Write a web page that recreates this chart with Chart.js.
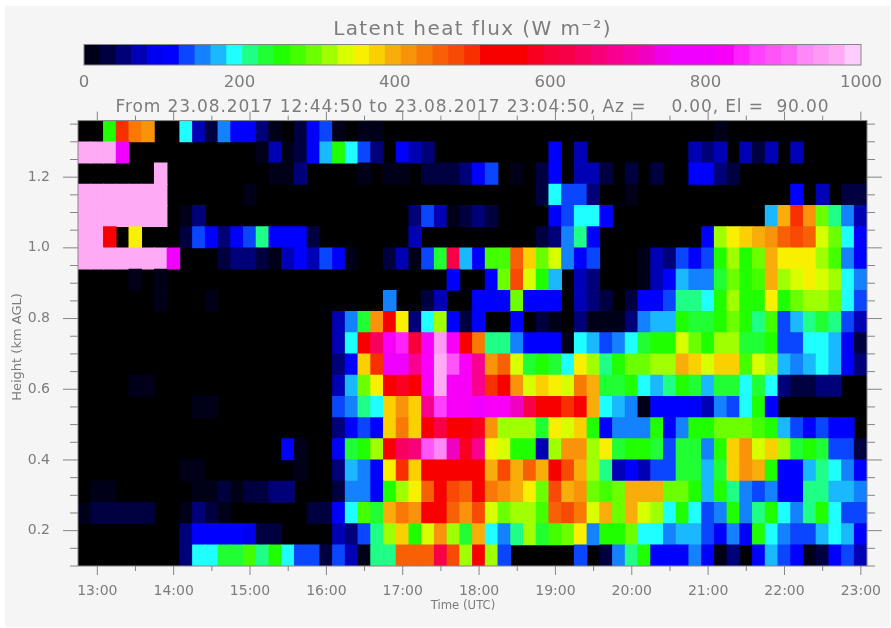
<!DOCTYPE html>
<html>
<head>
<meta charset="utf-8">
<script src="https://cdn.jsdelivr.net/npm/chart.js@4"></script>
<style>
html,body{margin:0;padding:0;background:#fff;width:891px;height:628px;overflow:hidden}
#panel{position:absolute;left:5px;top:6px;width:885px;height:621px;background:#f5f5f5}
canvas{position:absolute;left:0;top:0;filter:blur(0.7px)}
</style>
</head>
<body>
<div id="panel"></div>
<canvas id="bar" width="891" height="100"></canvas>
<canvas id="map" width="891" height="628"></canvas>
<script>
const _ = null;
// Colour-table level (0-48, each one 1000/49 W m-2 wide) read per 10-minute column; null = no data (black)
const h1330=[_,_,12,24,21,20,_,_,9,3, 1,7,5,5,2,0,_,1,5,6, 0,_,0,0,_,_,_,_,_,_, _,_,_,_,_,_,_,_,_,_, _,_,_,_,_,_,_,_,_,_, 0,_,_,_,_,_,_,_,_,_, _,_];
const h1270=[47,47,47,38,_,_,_,_,_,_, _,_,_,_,0,3,0,1,5,8, 12,9,6,2,_,5,3,2,_,_, _,_,_,_,_,_,_,5,_,3, _,_,_,_,_,_,_,_,3,2, 3,_,3,1,3,_,3,_,_,_, _,_];
const h1210=[_,_,_,_,_,_,47,_,_,_, _,_,_,_,_,0,0,2,_,_, _,_,0,_,0,0,_,1,1,1, 2,5,6,_,0,_,1,5,_,3, 3,1,_,1,_,1,_,_,5,5, 2,1,_,_,_,_,_,_,_,_, _,_];
const h1150=[47,47,47,47,47,47,47,_,_,_, _,_,_,0,_,_,_,_,_,_, _,_,_,_,_,_,_,_,_,_, _,_,_,_,_,_,1,9,6,6, 2,_,_,0,_,_,_,_,_,_, _,_,_,_,_,_,5,_,3,_, 1,1];
const h1090=[47,47,47,47,47,47,47,_,0,2, _,_,_,_,_,_,_,_,_,_, _,_,_,_,_,_,2,6,3,0, 1,2,1,_,_,_,_,5,6,9, 9,5,_,_,_,_,_,_,_,_, _,_,_,_,8,19,24,20,14,10, 7,3];
const h1030=[47,47,25,_,17,_,_,_,1,6, 5,2,5,6,10,5,5,5,1,_, _,_,_,_,_,_,3,_,_,_, _,_,_,_,_,_,1,2,7,10, 5,_,_,_,_,_,_,_,_,5, 15,17,18,19,20,22,23,22,16,14, 9,5];
const h970=[47,47,47,47,47,47,47,38,_,_, _,1,2,2,1,0,3,5,3,6, 5,0,_,_,1,3,0,6,11,30, 8,5,13,13,22,18,14,16,7,5, 6,_,_,_,0,3,2,6,5,6, 12,15,12,14,19,17,17,17,15,13, 7,5];
const h910=[_,_,_,_,0,_,0,_,_,_, _,_,_,_,_,_,_,_,_,_, _,_,_,_,_,_,_,_,_,5, _,_,5,14,23,16,12,8,_,3, 2,_,_,_,0,3,5,8,7,7, 11,14,12,13,19,15,16,17,16,15, 9,7];
const h850=[_,_,_,_,_,_,0,_,_,_, 0,_,_,_,_,_,_,_,_,_, _,_,_,_,7,_,_,1,3,_, _,5,5,5,14,5,5,5,_,3, 2,1,_,1,5,5,6,10,10,9, 12,15,12,12,17,12,14,15,15,14, 9,6];
const h790=[_,_,_,_,_,_,_,_,_,_, _,_,_,_,_,_,_,_,_,_, 3,7,11,20,25,17,2,9,15,5, 1,5,_,_,5,_,1,0,_,2, 0,0,0,2,7,8,8,12,11,11, 12,14,12,10,13,6,8,10,11,10, 6,3];
const h730=[_,_,_,_,_,_,_,_,_,_, _,_,_,_,_,_,_,_,_,_, 3,9,25,31,40,41,29,40,46,40, 25,21,10,10,7,5,5,5,0,9, 8,6,7,9,11,12,12,16,14,12, 15,15,11,11,12,6,6,9,9,8, 5,1];
const h670=[_,_,_,_,_,_,_,_,_,_, _,_,_,_,_,_,_,_,_,_, 2,5,18,24,37,38,33,40,47,43, 40,33,20,22,16,11,12,11,9,17, 15,10,12,14,14,15,15,19,18,16, 18,18,13,16,15,8,7,8,9,8, 5,2];
const h610=[_,_,_,_,0,0,_,_,_,_, _,_,_,_,_,_,_,_,_,_, 3,8,14,17,25,28,25,40,47,40, 40,33,24,25,20,16,18,17,16,21, 19,11,11,12,9,8,10,12,11,8, 11,11,9,11,9,2,1,1,2,2, _,_];
const h550=[_,_,_,_,_,_,_,_,_,0, 0,_,_,_,_,_,_,_,_,_, 6,7,10,9,18,20,18,33,42,40, 40,39,40,40,35,30,25,25,24,25, 19,9,8,7,0,5,5,5,5,3, 7,6,9,12,5,_,_,_,_,_, _,_];
const h490=[_,_,_,_,_,_,_,_,_,_, _,_,_,_,_,_,_,_,_,_, 2,5,6,5,18,21,18,25,30,27, 25,28,20,15,15,15,11,17,16,18, 12,5,7,7,7,12,5,7,12,12, 14,14,14,13,12,8,6,5,6,5, 5,_];
const h430=[_,_,_,_,_,_,_,_,_,_, _,_,_,_,_,_,5,0,_,_, 5,11,12,15,27,31,32,43,45,35, 28,33,17,16,12,12,3,15,20,20, 15,17,11,12,12,11,6,11,11,7, 12,18,20,16,18,15,11,12,11,6, 6,1];
const h370=[_,_,_,_,_,_,_,_,0,0, _,_,_,_,_,_,_,0,_,_, 2,8,7,5,17,24,18,25,26,25, 25,25,19,23,19,22,19,25,23,19, 15,10,3,5,3,6,6,11,11,8, 11,18,20,19,12,5,5,8,10,9, 7,5];
const h310=[_,0,0,_,_,_,_,_,_,0, 0,1,0,1,1,2,2,_,_,_, 1,7,7,5,12,15,17,22,25,23, 22,25,21,20,19,17,14,23,19,20, 14,13,14,19,19,19,14,14,12,8, 12,10,7,6,7,5,5,10,10,8, 8,7];
const h250=[0,1,1,1,1,1,_,_,0,2, 1,0,_,_,_,_,_,_,1,1, 5,9,13,11,19,21,20,25,25,22, 20,23,16,14,15,15,13,22,23,21, 16,19,14,19,16,15,9,12,9,6, 7,12,7,10,12,9,7,10,12,9, 6,6];
const h190=[_,_,_,_,_,_,_,_,2,5, 5,5,5,4,1,1,_,_,_,_, 3,2,6,10,15,18,12,16,20,15, 11,19,9,7,10,15,11,13,14,17, 7,12,12,14,9,9,7,8,8,6, 5,7,5,12,9,7,6,6,8,9, 8,5];
const h130=[_,_,_,_,_,_,_,_,2,9, 9,11,11,13,10,12,9,6,6,1, 6,3,0,10,10,22,22,22,30,23, 15,25,15,6,_,_,_,_,_,6, _,1,7,10,12,5,5,5,7,5, 0,2,_,5,8,6,5,0,1,5, 6,3];

const heights=[0.13,0.19,0.25,0.31,0.37,0.43,0.49,0.55,0.61,0.67,0.73,0.79,0.85,0.91,0.97,1.03,1.09,1.15,1.21,1.27,1.33];
const rows=[h130,h190,h250,h310,h370,h430,h490,h550,h610,h670,h730,h790,h850,h910,h970,h1030,h1090,h1150,h1210,h1270,h1330];
const timeStart=764+50/60, timeStep=10, timeEnd=1384+50/60;   // minutes of day, 12:44:50 .. 23:04:50
const hourTicks=[780,840,900,960,1020,1080,1140,1200,1260,1320,1380];
const hourLabels=["13:00","14:00","15:00","16:00","17:00","18:00","19:00","20:00","21:00","22:00","23:00"];
const halfHourTicks=[810,870,930,990,1050,1110,1170,1230,1290,1350];
const heightTicks=[0.2,0.4,0.6,0.8,1.0,1.2];
const heightMinor=[0.1,0.15,0.25,0.3,0.35,0.45,0.5,0.55,0.65,0.7,0.75,0.85,0.9,0.95,1.05,1.1,1.15,1.25,1.3,1.35];
const barTicks=[0,200,400,600,800,1000];
const palette=["#000018","#000040","#000078","#0000b4","#0000f0","#0000ff","#0a46ff","#1482ff","#1ab8ff","#1fffff",
"#1fff88","#1fff33","#20ff00","#44ff00","#6cff00","#a0ff00","#d8ff00","#f8f000","#fad000","#f9ad0a",
"#f8930a","#f87a05","#f86005","#f84a05","#f83000","#f80000","#f80000","#f80000","#f80020","#f80038",
"#f80048","#f80060","#f80078","#f80090","#f800a8","#f000c0","#f000e8","#f000ff","#f000ff","#f000ff",
"#f800f8","#ff22ff","#ff40ff","#ff55f8","#ff66f8","#ff88f8","#ff99f5","#ffaaf5","#ffccff"];
const titleText="Latent heat flux (W m\u207B\u00B2)";
const subtitleText="From 23.08.2017 12:44:50 to 23.08.2017 23:04:50, Az =    0.00, El =  90.00";

const GREY="#7c7c7c", LINE="#858585", FONT="'DejaVu Sans'";
const levelWidth=1000/palette.length;
const halfRow=0.03;

rows.forEach((r,i)=>{ if(r.length!==62) console.error("row",heights[i],"has",r.length); });

const datasets=rows.map((row,i)=>{
  const cells=[];
  row.forEach((lv,c)=>{ if(lv!==null) cells.push({lv,c}); });
  return {
    grouped:false, barPercentage:1, categoryPercentage:1, borderWidth:0, inflateAmount:0.4,
    data:cells.map(o=>({x:timeStart+timeStep*(o.c+0.5), y:[heights[i]-halfRow,heights[i]+halfRow]})),
    backgroundColor:cells.map(o=>palette[o.lv])
  };
});

function spacedTitle(px){
  let done=false;
  return {id:'spacedTitle',beforeLayout(ch){
    const t=ch.titleBlock;
    if(!t||done) return;
    done=true;
    const draw=t.draw.bind(t);
    t.draw=(area)=>{t.ctx.letterSpacing=px+'px';draw(area);t.ctx.letterSpacing='0px';};
  }};
}

const plotPlugin={
  id:'plotFrame',
  beforeDatasetsDraw(ch){
    const a=ch.chartArea,c=ch.ctx;
    c.save();c.fillStyle="#000";c.fillRect(a.left,a.top,a.right-a.left,a.bottom-a.top);c.restore();
  },
  afterDraw(ch){
    const a=ch.chartArea,c=ch.ctx,x=ch.scales.x,y=ch.scales.y;
    c.save();
    c.strokeStyle=LINE;c.lineWidth=1;
    c.strokeRect(a.left,a.top,a.right-a.left,a.bottom-a.top);
    const seg=(x0,y0,x1,y1)=>{c.beginPath();c.moveTo(x0,y0);c.lineTo(x1,y1);c.stroke();};
    hourTicks.forEach(v=>{const p=x.getPixelForValue(v);seg(p,a.bottom,p,a.bottom+9);seg(p,a.top,p,a.top-9);});
    halfHourTicks.forEach(v=>{const p=x.getPixelForValue(v);seg(p,a.bottom,p,a.bottom+5);seg(p,a.top,p,a.top-5);});
    heightTicks.forEach(v=>{const p=y.getPixelForValue(v);seg(a.left,p,a.left-15,p);seg(a.right,p,a.right+15,p);});
    heightMinor.forEach(v=>{const p=y.getPixelForValue(v);seg(a.left,p,a.left-8,p);seg(a.right,p,a.right+8,p);});
    c.fillStyle=GREY;c.textAlign="center";c.textBaseline="middle";
    c.font="11.7px "+FONT;
    c.fillText("Time (UTC)",463,606);
    c.font="13px "+FONT;
    c.translate(18,347);c.rotate(-Math.PI/2);c.fillText("Height (km AGL)",0,0);
    c.restore();
  }
};

new Chart(document.getElementById('map'),{
  type:'bar',
  data:{datasets},
  plugins:[plotPlugin,spacedTitle(0.87)],
  options:{
    responsive:false,animation:false,
    layout:{autoPadding:false,padding:{left:0,right:24,top:0,bottom:0}},
    plugins:{
      legend:{display:false},tooltip:{enabled:false},
      title:{display:true,text:subtitleText,fullSize:false,color:GREY,font:{family:FONT,size:17,weight:'normal'},padding:{top:97.8,bottom:2.4}}
    },
    scales:{
      x:{type:'linear',min:timeStart,max:timeEnd,offset:false,
        grid:{display:false},border:{display:false},
        afterBuildTicks(s){s.ticks=hourTicks.map(value=>({value}));},
        afterFit(s){s.height=62;},
        ticks:{autoSkip:false,maxRotation:0,padding:9,color:GREY,font:{family:FONT,size:14},
          callback(v){return hourLabels[hourTicks.indexOf(v)];}}
      },
      y:{type:'linear',min:0.1,max:1.36,
        grid:{display:false},border:{display:false},
        afterBuildTicks(s){s.ticks=heightTicks.map(value=>({value}));},
        afterFit(s){s.width=78;},
        ticks:{autoSkip:false,padding:20,color:GREY,font:{family:FONT,size:14},callback(v){return v.toFixed(1);}}
      }
    }
  }
});

const barFrame={id:'barFrame',afterDraw(ch){const a=ch.chartArea,c=ch.ctx;c.save();c.strokeStyle=LINE;c.lineWidth=1;c.strokeRect(a.left,a.top,a.right-a.left,a.bottom-a.top);c.restore();}};
new Chart(document.getElementById('bar'),{
  type:'bar',
  data:{datasets:[{grouped:false,barPercentage:1,categoryPercentage:1,borderWidth:0,inflateAmount:0.4,
    data:palette.map((_c,i)=>({x:(i+0.5)*levelWidth,y:[0,1]})),
    backgroundColor:palette}]},
  plugins:[barFrame,spacedTitle(1.4)],
  options:{
    responsive:false,animation:false,
    layout:{autoPadding:false,padding:{left:84,right:30,top:0,bottom:0}},
    plugins:{
      legend:{display:false},tooltip:{enabled:false},
      title:{display:true,text:titleText,fullSize:false,color:GREY,font:{family:FONT,size:20,weight:'normal'},padding:{top:18,bottom:2.5}}
    },
    scales:{
      x:{type:'linear',min:0,max:1000,offset:false,
        grid:{display:false},border:{display:false},
        afterBuildTicks(s){s.ticks=barTicks.map(value=>({value}));},
        afterFit(s){s.height=35;},
        ticks:{autoSkip:false,maxRotation:0,padding:0,color:GREY,font:{family:FONT,size:16.5},callback(v){return String(v);}}
      },
      y:{type:'linear',min:0,max:1,display:false}
    }
  }
});
</script>
</body>
</html>
